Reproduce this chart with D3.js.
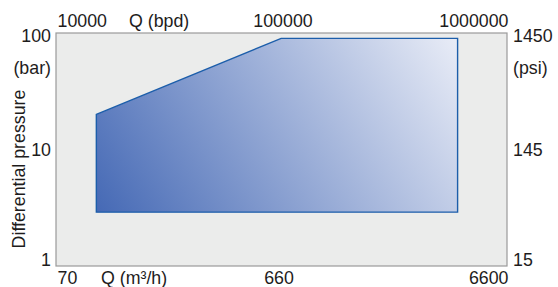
<!DOCTYPE html>
<html><head><meta charset="utf-8">
<script src="https://cdn.jsdelivr.net/npm/d3@7"></script>
<style>
html,body{margin:0;padding:0;background:#fff;}
svg text{font-family:"Liberation Sans",Arial,Helvetica,sans-serif;font-size:17.8px;fill:#1e1c1c;}
</style></head>
<body><svg id="c" width="558" height="287"></svg>
<script>
// Operating envelope: flow (m³/h) vs differential pressure (bar)
const flowM3h = [100, 660, 4000, 4000, 100];
const pressureBar = [20, 90, 90, 2.9, 2.9];
// axis ticks
const bpdTicks = [10000, 100000, 1000000];
const bpdLabels = ["10000", "100000", "1000000"];
const m3hTicks = [66.24, 662.4, 6624];
const m3hLabels = ["70", "660", "6600"];
const barTicks = [1, 10, 100];
const barLabels = ["1", "10", "100"];
const psiLabels = ["15", "145", "1450"];

const svg = d3.select("#c");
const L = 56, R = 507, T = 33, B = 266;

const x = d3.scaleLog().domain([66.24, 6624]).range([L, R]);
const xTop = d3.scaleLog().domain([10000, 1000000]).range([L, R]);
const y = d3.scaleLog().domain([1, 100]).range([B, T]);

const defs = svg.append("defs");
const g = defs.append("linearGradient").attr("id", "grad")
  .attr("gradientUnits", "userSpaceOnUse")
  .attr("x1", x(100)).attr("y1", y(2.9))
  .attr("x2", x(4000)).attr("y2", y(90) - 60);
g.append("stop").attr("offset", "0").attr("stop-color", "#4569b5");
g.append("stop").attr("offset", "1").attr("stop-color", "#f6f7fc");

// plot background
svg.append("rect").attr("x", L).attr("y", T).attr("width", R - L).attr("height", B - T)
  .attr("fill", "#ebeceb").attr("stroke", "#9a9a9a").attr("stroke-width", 1.2);

// envelope
const pts = flowM3h.map((f, i) => [x(f), y(pressureBar[i])]);
svg.append("path").attr("d", d3.line()(pts) + "Z")
  .attr("fill", "url(#grad)").attr("stroke", "#1c5eaa").attr("stroke-width", 1.4)
  .attr("stroke-linejoin", "miter");

// top axis
const topAx = svg.append("g").attr("transform", `translate(0,${T})`)
  .call(d3.axisTop(xTop).tickValues(bpdTicks).tickSize(0).tickPadding(6)
    .tickFormat((d, i) => bpdLabels[i]));
topAx.select(".domain").remove();
topAx.selectAll("text").attr("font-size", null).attr("font-family", null).attr("fill", null)
  .attr("text-anchor", (d, i) => i === 0 ? "start" : i === 2 ? "end" : "middle")
  .attr("dx", 1);
svg.append("text").attr("x", 129).attr("y", 27).text("Q (bpd)");

// bottom axis
const botAx = svg.append("g").attr("transform", `translate(0,${B})`)
  .call(d3.axisBottom(x).tickValues(m3hTicks).tickSize(0).tickPadding(5)
    .tickFormat((d, i) => m3hLabels[i]));
botAx.select(".domain").remove();
botAx.selectAll("text").attr("font-size", null).attr("font-family", null).attr("fill", null)
  .attr("text-anchor", (d, i) => i === 0 ? "start" : i === 2 ? "end" : "middle")
  .attr("dx", (d, i) => i === 1 ? -3 : 1);
svg.append("text").attr("x", 101).attr("y", 284).text("Q (m³/h)");

// left axis
const leftAx = svg.append("g").attr("transform", `translate(${L},0)`)
  .call(d3.axisLeft(y).tickValues(barTicks).tickSize(0).tickPadding(5)
    .tickFormat((d, i) => barLabels[i]));
leftAx.select(".domain").remove();
leftAx.selectAll("text").attr("font-size", null).attr("font-family", null).attr("fill", null)
  .attr("dy", (d, i) => i === 0 ? "-0.02em" : i === 2 ? "0.45em" : "0.32em");
svg.append("text").attr("x", 51).attr("y", 74).attr("text-anchor", "end").text("(bar)");

// right axis
const rightAx = svg.append("g").attr("transform", `translate(${R},0)`)
  .call(d3.axisRight(y).tickValues(barTicks).tickSize(0).tickPadding(6)
    .tickFormat((d, i) => psiLabels[i]));
rightAx.select(".domain").remove();
rightAx.selectAll("text").attr("font-size", null).attr("font-family", null).attr("fill", null)
  .attr("dy", (d, i) => i === 0 ? "-0.02em" : i === 2 ? "0.45em" : "0.32em");
svg.append("text").attr("x", 513).attr("y", 74).text("(psi)");

// y title
svg.append("text").attr("transform", "translate(25,169) rotate(-90)")
  .attr("text-anchor", "middle").text("Differential pressure");
</script></body></html>
